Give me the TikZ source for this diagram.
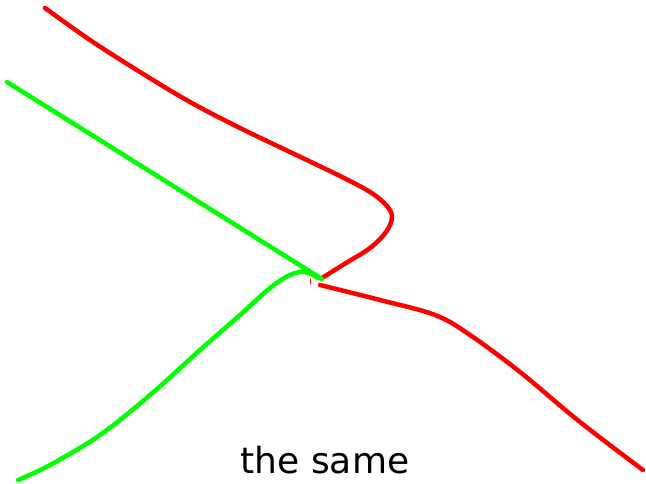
\documentclass[tikz,border=0pt]{standalone}
\usepackage{fontspec}
\setmainfont{DejaVu Sans}

\begin{document}
\begin{tikzpicture}[x=1pt, y=-1pt, line width=4.5pt, line cap=round, line join=round]
  \useasboundingbox (0,0) rectangle (646,484);
  \draw[red] plot[smooth, tension=0.6] coordinates {(45,8) (90,40) (140,72) (190,102)
    (240,128) (290,152) (340,176) (370,192) (386,205) (392,217) (386,232) (370,248)
    (346,263) (322,278)};
  \draw[red] plot[smooth, tension=0.6] coordinates {(320,285) (380,300) (435,315)
    (470,335) (520,372) (580,422) (643,470)};
  \draw[red, line width=1pt] (310,279) -- (310,284);
  \draw[green] (7,82) -- (322,279);
  \draw[green] plot[smooth, tension=0.6] coordinates {(318,278) (305,272) (290,275)
    (270,288) (240,315) (200,350) (150,395) (100,435) (50,465) (18,480)};
  \node[font=\fontsize{36}{40}\selectfont, anchor=base] (lbl) at (325,473) {the same};
\end{tikzpicture}
\end{document}
